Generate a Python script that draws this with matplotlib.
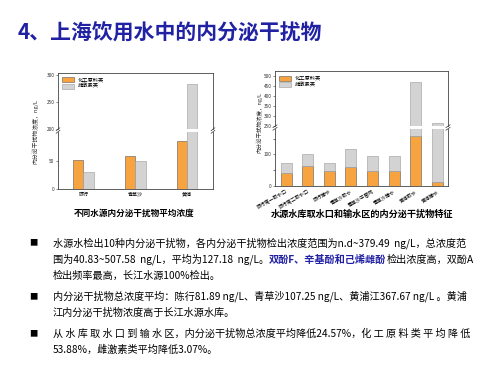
import matplotlib
matplotlib.use("Agg")
import matplotlib.pyplot as plt
import numpy as np

plt.rcParams['font.family'] = ['Noto Sans CJK SC', 'DejaVu Sans']

# left chart: mean concentration by source
left_sites = ['陈行', '青草沙', '黄浦']
left_chem = [51, 59, 85]
left_estro = [31, 49, 284]

# right chart: intake vs. distribution, stacked
right_sites = ['陈行第一取水口', '陈行第二取水口', '陈行输水', '青草沙取水',
               '青草沙干管网', '青草沙输水', '黄浦取水', '黄浦输水']
right_chem = [42, 63, 47, 60, 48, 49, 157, 13]
right_total = [74, 100, 73, 118, 95, 94, 471, 264]
right_estro = [t - c for t, c in zip(right_total, right_chem)]

legend_labels = ['化工原料类', '雌激素类']
ylabel = '内分泌干扰物浓度，ng/L'

ORANGE = '#F7A340'
GRAY = '#D3D3D3'
EDGE = '#5a5a5a'
BLUE = '#2121A4'

W, H = 500, 375
fig = plt.figure(figsize=(5, 3.75), dpi=100)
fig.patch.set_facecolor('white')


def px_axes(x0, y0, x1, y1):
    return fig.add_axes([x0 / W, 1 - y1 / H, (x1 - x0) / W, (y1 - y0) / H])


def style(ax):
    for s in ax.spines.values():
        s.set_color('#444444')
        s.set_linewidth(0.6)
    ax.tick_params(axis='y', labelsize=3.4, length=1.8, width=0.4, pad=0.8, colors='#333333')
    ax.tick_params(axis='x', length=0, labelsize=3.6, pad=2)


def break_marks(up, low):
    kw = dict(color='#333333', lw=0.5, clip_on=False)
    for x in (0, 1):
        up.plot([x - 0.012, x + 0.012], [-0.02, 0.03], transform=up.transAxes, **kw)
        low.plot([x - 0.012, x + 0.012], [0.97, 1.02], transform=low.transAxes, **kw)


# ---- left chart ----
lu = px_axes(58, 73, 213, 129.5)
ll = px_axes(58, 131.5, 213, 189)
x = np.arange(len(left_sites))
for ax in (lu, ll):
    ax.bar(x - 0.1, left_chem, 0.2, color=ORANGE, edgecolor=EDGE, linewidth=0.4, label=legend_labels[0])
    ax.bar(x + 0.1, left_estro, 0.2, color=GRAY, edgecolor='#9a9a9a', linewidth=0.4, label=legend_labels[1])
    ax.set_xlim(-0.49, 2.5)
    style(ax)
lu.set_ylim(200, 304)
lu.set_yticks([200, 250, 300])
ll.set_ylim(0, 102)
ll.set_yticks([0, 50])
lu.spines['bottom'].set_visible(False)
ll.spines['top'].set_visible(False)
lu.set_xticks([])
ll.set_xticks(x)
ll.set_xticklabels(left_sites)
break_marks(lu, ll)
lu.legend(loc='upper left', fontsize=3.8, frameon=False, handlelength=2.2, handleheight=1.1,
          borderaxespad=0.4, labelspacing=0.2)
fig.text(35 / W, 1 - 131 / H, ylabel, rotation=90, ha='center', va='center', fontsize=4.2, color='#333333')
fig.text(134 / W, 1 - 213 / H, '不同水源内分泌干扰物平均浓度', ha='center', va='center',
         fontsize=6.2, fontweight='bold')

# ---- right chart ----
ru = px_axes(275, 71.5, 448, 126.5)
rl = px_axes(275, 128.5, 448, 186)
xr = np.arange(len(right_sites))
for ax in (ru, rl):
    ax.bar(xr, right_chem, 0.51, color=ORANGE, edgecolor=EDGE, linewidth=0.4, label=legend_labels[0])
    ax.bar(xr, right_estro, 0.51, bottom=right_chem, color=GRAY, edgecolor='#9a9a9a', linewidth=0.4,
           label=legend_labels[1])
    ax.set_xlim(-0.52, 7.5)
    style(ax)
ru.set_ylim(248, 523)
ru.set_yticks([250, 300, 350, 400, 450, 500])
rl.set_ylim(0, 182)
rl.set_yticks([0, 100])
rl.set_yticks([50, 150], minor=True)
rl.tick_params(axis='y', which='minor', length=1.2, width=0.4)
ru.spines['bottom'].set_visible(False)
rl.spines['top'].set_visible(False)
ru.set_xticks([])
rl.set_xticks(xr)
rl.set_xticklabels(right_sites, rotation=30, ha='right', rotation_mode='anchor', fontsize=3.5)
break_marks(ru, rl)
ru.legend(loc='upper left', fontsize=3.8, frameon=False, handlelength=2.2, handleheight=1.1,
          borderaxespad=0.4, labelspacing=0.2)
fig.text(259 / W, 1 - 122 / H, ylabel, rotation=90, ha='center', va='center', fontsize=4.0, color='#333333')
fig.text(362 / W, 1 - 214 / H, '水源水库取水口和输水区的内分泌干扰物特征', ha='center', va='center',
         fontsize=6.6, fontweight='bold')

# ---- slide text ----
bg = fig.add_axes([0, 0, 1, 1], zorder=-1)
bg.axis('off')
bg.set_xlim(0, W)
bg.set_ylim(H, 0)

bg.text(18, 33, '4、上海饮用水中的内分泌干扰物', fontsize=15, fontweight='bold', color=BLUE,
        ha='left', va='center')

fs = 7.3
for yb in (243, 296.5, 333.5):
    bg.text(33, yb, '■', fontsize=6, ha='center', va='center', color='black')

bg.text(53, 243, '水源水检出10种内分泌干扰物，各内分泌干扰物检出浓度范围为n.d~379.49  ng/L，总浓度范',
        fontsize=fs, va='center')
t1 = bg.text(53, 259.5, '围为40.83~507.58  ng/L，平均为127.18  ng/L。', fontsize=fs, va='center')
t2 = bg.annotate('双酚F、辛基酚和己烯雌酚', xy=(1, 0), xycoords=t1, va='bottom', ha='left',
                 fontsize=fs, color=BLUE, fontweight='bold')
bg.annotate('检出浓度高，双酚A', xy=(1, 0), xycoords=t2, va='bottom', ha='left', fontsize=fs)
bg.text(53, 275.5, '检出频率最高，长江水源100%检出。', fontsize=fs, va='center')

bg.text(53, 296.5, '内分泌干扰物总浓度平均：陈行81.89 ng/L、青草沙107.25 ng/L、黄浦江367.67 ng/L 。黄浦',
        fontsize=fs, va='center')
bg.text(53, 313, '江内分泌干扰物浓度高于长江水源水库。', fontsize=fs, va='center')

bg.text(53, 333.5, '从 水 库 取 水 口 到 输 水 区，内分泌干扰物总浓度平均降低24.57%，化 工 原 料 类 平 均 降 低',
        fontsize=fs, va='center')
bg.text(53, 350, '53.88%，雌激素类平均降低3.07%。', fontsize=fs, va='center')

fig.savefig('out.png', dpi=100, facecolor='white')
